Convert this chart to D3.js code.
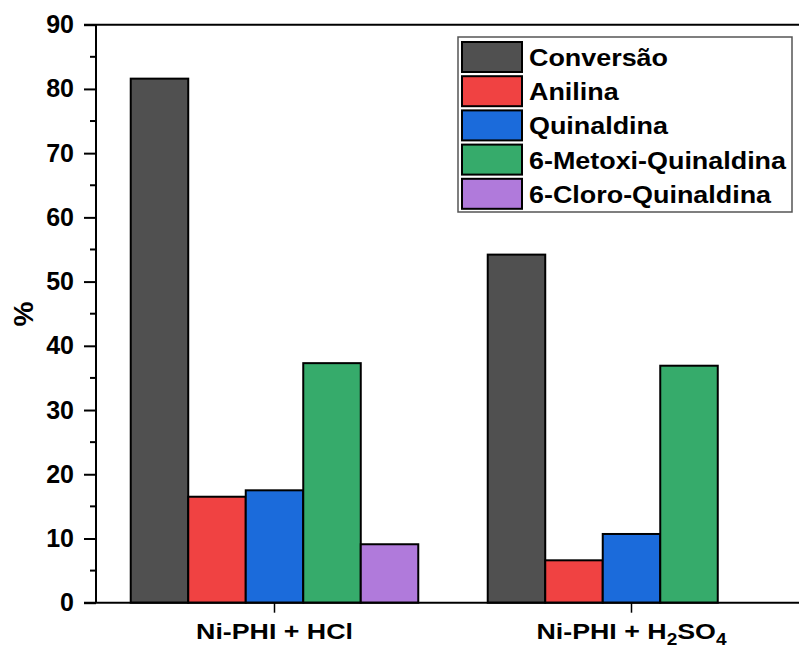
<!DOCTYPE html>
<html>
<head>
<meta charset="utf-8">
<script src="https://cdn.jsdelivr.net/npm/d3@7"></script>
<style>
  html, body { margin: 0; padding: 0; background: #fff; }
  svg { display: block; font-family: "Liberation Sans", Arial, sans-serif; font-weight: bold; }
</style>
</head>
<body>
<svg id="chart" width="799" height="648"></svg>
<script>
// Catalyst conditions (x categories)
const categories = ["Ni-PHI + HCl", "Ni-PHI + H2SO4"];
// Measured series (% values)
const series = ["Conversão", "Anilina", "Quinaldina", "6-Metoxi-Quinaldina", "6-Cloro-Quinaldina"];
const conversao   = [81.6, 54.2];
const anilina     = [16.5, 6.6];
const quinaldina  = [17.5, 10.7];
const metoxi      = [37.3, 36.9];
const cloro       = [9.1, null];
const yTicks = [0, 10, 20, 30, 40, 50, 60, 70, 80, 90];
const colors = ["#505050", "#F04242", "#1B6BDB", "#36AB6B", "#B07ADB"];

const values = [conversao, anilina, quinaldina, metoxi, cloro];

const svg = d3.select("#chart");
const plotLeft = 96, plotBottom = 602.7, plotTop = 24.7, plotRight = 810;
// labels are set in a slightly widened bold face
const wide = 1.19;

const y = d3.scaleLinear().domain([0, 90]).range([plotBottom, plotTop]);
const x0 = d3.scaleBand().domain(categories).range([plotLeft, plotRight]).paddingInner(0).paddingOuter(0);
const x1 = d3.scaleBand().domain(series).range([0, x0.bandwidth()]).paddingInner(0).paddingOuter(0.604);
const color = d3.scaleOrdinal().domain(series).range(colors);

// bars
const rows = [];
categories.forEach((c, ci) => series.forEach((s, si) => {
  const v = values[si][ci];
  if (v != null) rows.push({ c, s, v });
}));
svg.append("g").selectAll("rect").data(rows).join("rect")
  .attr("x", d => x0(d.c) + x1(d.s))
  .attr("y", d => y(d.v))
  .attr("width", x1.bandwidth())
  .attr("height", d => y(0) - y(d.v))
  .attr("fill", d => color(d.s))
  .attr("stroke", "#000")
  .attr("stroke-width", 2);

// y axis with minor ticks
const yAxis = svg.append("g").attr("transform", `translate(${plotLeft},0)`)
  .call(d3.axisLeft(y).tickValues(yTicks).tickSize(12).tickPadding(10).tickFormat(d3.format("d")));
yAxis.selectAll(".tick text").attr("font-size", 25).attr("font-weight", "bold")
  .attr("font-family", "Liberation Sans, Arial, sans-serif").attr("fill", "#000");
yAxis.selectAll(".tick line").attr("stroke-width", 2);
yAxis.select(".domain").attr("stroke-width", 2).attr("d", `M0,${plotBottom}V${plotTop}`);
const minor = d3.range(5, 90, 10);
svg.append("g").selectAll("line").data(minor).join("line")
  .attr("x1", plotLeft - 6).attr("x2", plotLeft)
  .attr("y1", d => y(d)).attr("y2", d => y(d))
  .attr("stroke", "#000").attr("stroke-width", 2);

// x axis
const xAxis = svg.append("g").attr("transform", `translate(0,${plotBottom})`)
  .call(d3.axisBottom(x0).tickSize(10).tickFormat(""));
xAxis.select(".domain").attr("stroke-width", 2).attr("d", `M${plotLeft - 12},0H${plotRight}`);
xAxis.selectAll(".tick line").attr("stroke-width", 1.5);

// x category labels (with chemical subscripts)
const labG = svg.append("g");
categories.forEach(c => {
  const t = labG.append("text")
    .attr("transform", `translate(${x0(c) + x0.bandwidth() / 2},639) scale(${wide},1)`)
    .attr("text-anchor", "middle")
    .attr("font-size", 22.5);
  const parts = c.split(/(\d)/).filter(p => p !== "");
  parts.forEach((p, i) => {
    if (/^\d$/.test(p)) {
      t.append("tspan").attr("font-size", 16).attr("dy", 6).text(p);
    } else {
      const sp = t.append("tspan").text(p);
      if (i > 0 && /^\d$/.test(parts[i - 1])) sp.attr("dy", -6);
    }
  });
});

// top frame line
svg.append("line").attr("x1", plotLeft - 12).attr("x2", plotRight)
  .attr("y1", plotTop).attr("y2", plotTop).attr("stroke", "#000").attr("stroke-width", 2);

// y axis title
svg.append("text")
  .attr("transform", `translate(33,314) rotate(-90)`)
  .attr("text-anchor", "middle")
  .attr("font-size", 28)
  .text("%");

// legend
const lg = svg.append("g");
lg.append("rect").attr("x", 458).attr("y", 37).attr("width", 334).attr("height", 175)
  .attr("fill", "#fff").attr("stroke", "#555").attr("stroke-width", 1.5);
series.forEach((s, i) => {
  const cy = 57 + i * 34.2;
  lg.append("rect").attr("x", 462).attr("y", cy - 15).attr("width", 60).attr("height", 30)
    .attr("fill", color(s)).attr("stroke", "#000").attr("stroke-width", 2);
  lg.append("text")
    .attr("transform", `translate(529,${cy + 9}) scale(1.17,1)`)
    .attr("font-size", 23).text(s);
});
</script>
</body>
</html>
